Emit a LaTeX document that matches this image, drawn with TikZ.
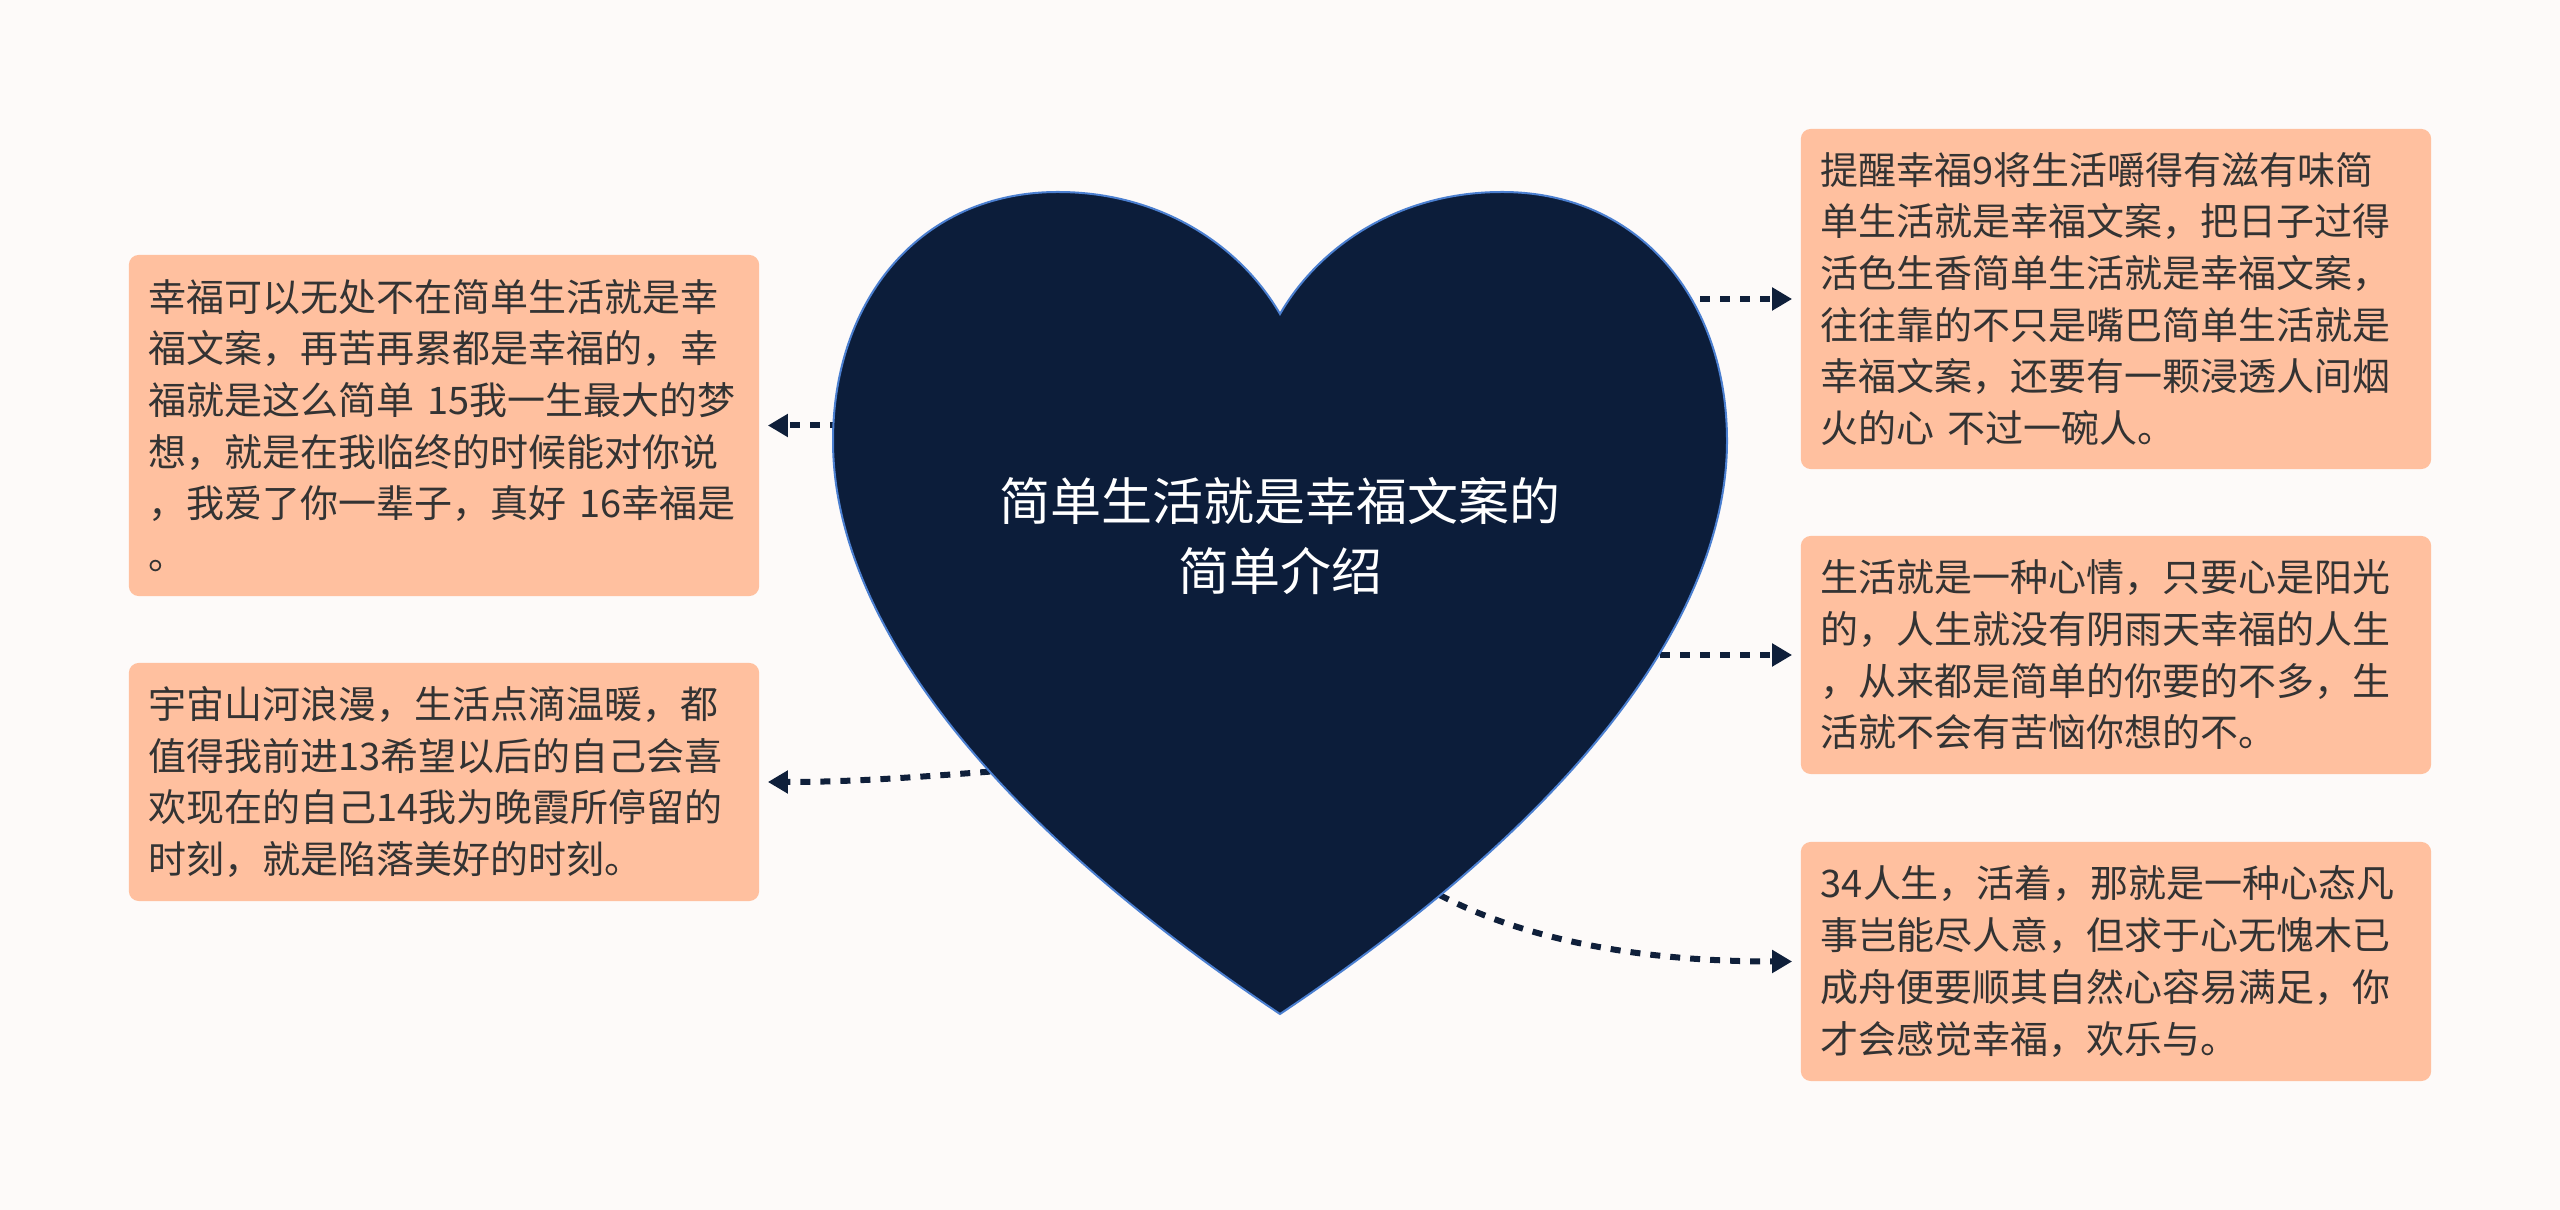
\documentclass[tikz,border=0pt]{standalone}
\usepackage{fontspec}
\setmainfont{Noto Sans CJK SC}
\usetikzlibrary{arrows.meta,positioning}
\usepackage{xcolor}

\definecolor{bgpaper}{HTML}{FDFAF9}
\definecolor{heartnavy}{HTML}{0C1D3A}
\definecolor{heartrim}{HTML}{4B7FD0}
\definecolor{leafpeach}{HTML}{FFC09F}
\definecolor{leaftext}{HTML}{333333}
\definecolor{linknavy}{HTML}{0F1F3A}

\tikzset{
  leaf/.style={fill=leafpeach, rounded corners=0.1cm, text=leaftext,
    font=\fontsize{10.8pt}{14.7pt}\selectfont, text width=5.9cm,
    inner xsep=0.2cm, align=left, minimum width=6.3cm},
  link/.style={linknavy, line width=0.06cm, dash pattern=on 0.1cm off 0.1cm,
    -{Triangle[length=0.2cm,width=0.22cm]}, shorten >=0.08cm},
}

\begin{document}
\begin{tikzpicture}[x=0.01cm,y=-0.01cm]
\fill[bgpaper] (0,0) rectangle (2560,1210);
\useasboundingbox (0,0) rectangle (2560,1210);

% text boxes
\node[leaf, minimum height=3.41cm] (l1) at (444,425.5) {幸福可以无处不在简单生活就是幸\\福文案，再苦再累都是幸福的，幸\\福就是这么简单~15我一生最大的梦\\想，就是在我临终的时候能对你说\\，我爱了你一辈子，真好~16幸福是\\。};
\node[leaf, minimum height=2.38cm] (l2) at (444,782) {宇宙山河浪漫，生活点滴温暖，都\\值得我前进13希望以后的自己会喜\\欢现在的自己14我为晚霞所停留的\\时刻，就是陷落美好的时刻。};
\node[leaf, minimum height=3.40cm] (r1) at (2116,299) {提醒幸福9将生活嚼得有滋有味简\\单生活就是幸福文案，把日子过得\\活色生香简单生活就是幸福文案，\\往往靠的不只是嘴巴简单生活就是\\幸福文案，还要有一颗浸透人间烟\\火的心~不过一碗人。};
\node[leaf, minimum height=2.38cm] (r2) at (2116,655) {生活就是一种心情，只要心是阳光\\的，人生就没有阴雨天幸福的人生\\，从来都是简单的你要的不多，生\\活就不会有苦恼你想的不。};
\node[leaf, minimum height=2.39cm] (r3) at (2116,961.5) {34人生，活着，那就是一种心态凡\\事岂能尽人意，但求于心无愧木已\\成舟便要顺其自然心容易满足，你\\才会感觉幸福，欢乐与。};

% connectors, starting inside the heart
\coordinate (s1) at (1000,425.5);
\coordinate (s2) at (1150,762);
\coordinate (s3) at (1560,299);
\coordinate (s4) at (1500,655);
\coordinate (s5) at (1280,700);
\draw[link] (s1) -- (l1.east);
\draw[link] (s2) .. controls (1000,768) and (900,782) .. (l2.east);
\draw[link] (s3) -- (r1.west);
\draw[link] (s4) -- (r2.west);
\draw[link] (s5) .. controls (1330,900) and (1550,961.5) .. (r3.west);

% heart
\filldraw[fill=heartnavy, draw=heartrim, line width=0.02cm]
  (1280,314) .. controls (1320,245) and (1400,192) .. (1502,192)
  .. controls (1640,192) and (1727,300) .. (1727,441)
  .. controls (1727,600) and (1600,800) .. (1280,1014)
  .. controls (960,800) and (833,600) .. (833,441)
  .. controls (833,300) and (920,192) .. (1058,192)
  .. controls (1160,192) and (1240,245) .. (1280,314) -- cycle;
\node[text=white, align=center, font=\fontsize{14.5pt}{19.9pt}\selectfont] (core) at (1280,536) {简单生活就是幸福文案的\\简单介绍};
\end{tikzpicture}
\end{document}
